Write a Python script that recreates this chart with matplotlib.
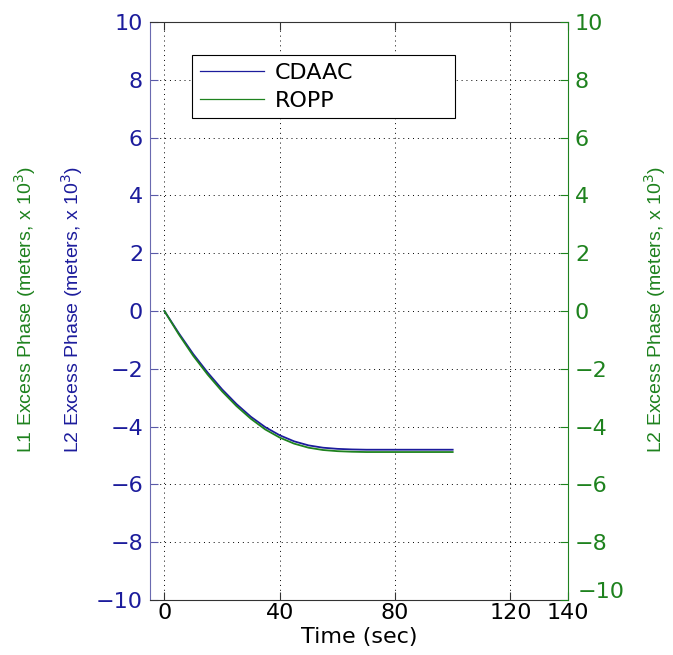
import matplotlib
matplotlib.use("Agg")
import matplotlib.pyplot as plt
import matplotlib.transforms as mtransforms
import numpy as np

plt.rcParams['font.family'] = ['DejaVu Sans']

# excess phase profiles (x 10^3 m) vs time
t = [0, 5, 10, 15, 20, 25, 30, 35, 40, 45, 50, 55, 60, 65, 70, 80, 90, 100]
cdaac = [0, -0.77, -1.49, -2.13, -2.71, -3.22, -3.66, -4.02, -4.30, -4.51,
         -4.65, -4.73, -4.77, -4.79, -4.80, -4.80, -4.80, -4.80]
ropp = [0, -0.81, -1.55, -2.20, -2.78, -3.29, -3.73, -4.10, -4.38, -4.59,
        -4.73, -4.81, -4.85, -4.87, -4.88, -4.88, -4.88, -4.88]

xticks = [0, 40, 80, 120, 140]
yticks = np.arange(-10, 11, 2)
ylabels = ['\u2212%d' % -v if v < 0 else '%d' % v for v in yticks]

blue = '#1c1c9c'
green = '#1e821e'
lab_font = ['Liberation Sans', 'DejaVu Sans']

fig = plt.figure(figsize=(6.73, 6.55), dpi=100)
ax = fig.add_axes([150/673, 55/655, 418/673, 578/655])

ax.plot(t, cdaac, color=blue, lw=1.3, label='CDAAC')
ax.plot(t, ropp, color=green, lw=1.3, label='ROPP')

ax.set_xlim(-5, 140)
ax.set_ylim(-10, 10)
ax.set_xticks(xticks)
ax.set_yticks(yticks)
ax.set_yticklabels(ylabels)
ax.grid(True, color='black', linestyle=(0, (1, 4)), linewidth=0.7)
ax.tick_params(direction='in', length=6, labelsize=16, top=True, right=False)
ax.tick_params(axis='y', colors='#5a5aa8', labelcolor=blue, pad=5)
ax.tick_params(axis='x', colors='#333333', labelcolor='black', pad=2)
ax.spines['left'].set_color('#6a6ab0')
ax.spines['bottom'].set_color('#333333')
ax.spines['top'].set_color('#333333')
ax.spines['right'].set_visible(False)
ax.set_xlabel('Time (sec)', fontsize=16, labelpad=3)

ax2 = ax.twinx()
ax2.set_ylim(-10, 10)
ax2.set_yticks(yticks)
ax2.set_yticklabels(ylabels)
ax2.tick_params(direction='in', length=6, labelsize=16, colors=green,
                labelcolor=green, pad=5)
ax2.spines['right'].set_color(green)
for s in ['left', 'top', 'bottom']:
    ax2.spines[s].set_visible(False)

# lift the bottom right-hand label a little so it clears the "140"
lift = mtransforms.ScaledTranslation(2/72, 7/72, fig.dpi_scale_trans)
bottom_lab = ax2.get_yticklabels()[0]
bottom_lab.set_transform(bottom_lab.get_transform() + lift)

leg = ax.legend(loc='upper left', bbox_to_anchor=(0.1, 0.83, 0.63, 0.113),
                mode='expand', fontsize=16, handlelength=2.9, handletextpad=0.5,
                borderaxespad=0, fancybox=False, framealpha=1,
                edgecolor='black', borderpad=0.35, labelspacing=0.35)
leg.get_frame().set_linewidth(0.8)
for line in leg.get_lines():
    line.set_linewidth(0.9)

sup = r' (meters, x 10$^{3}$)'
fig.text(25/673, 1 - 310/655, 'L1 Excess Phase' + sup, rotation=90, color=green,
         fontsize=14, family=lab_font, ha='center', va='center')
fig.text(72/673, 1 - 310/655, 'L2 Excess Phase' + sup, rotation=90, color=blue,
         fontsize=14, family=lab_font, ha='center', va='center')
fig.text(655/673, 1 - 310/655, 'L2 Excess Phase' + sup, rotation=90, color=green,
         fontsize=14, family=lab_font, ha='center', va='center')

fig.savefig('out.png', dpi=100)
